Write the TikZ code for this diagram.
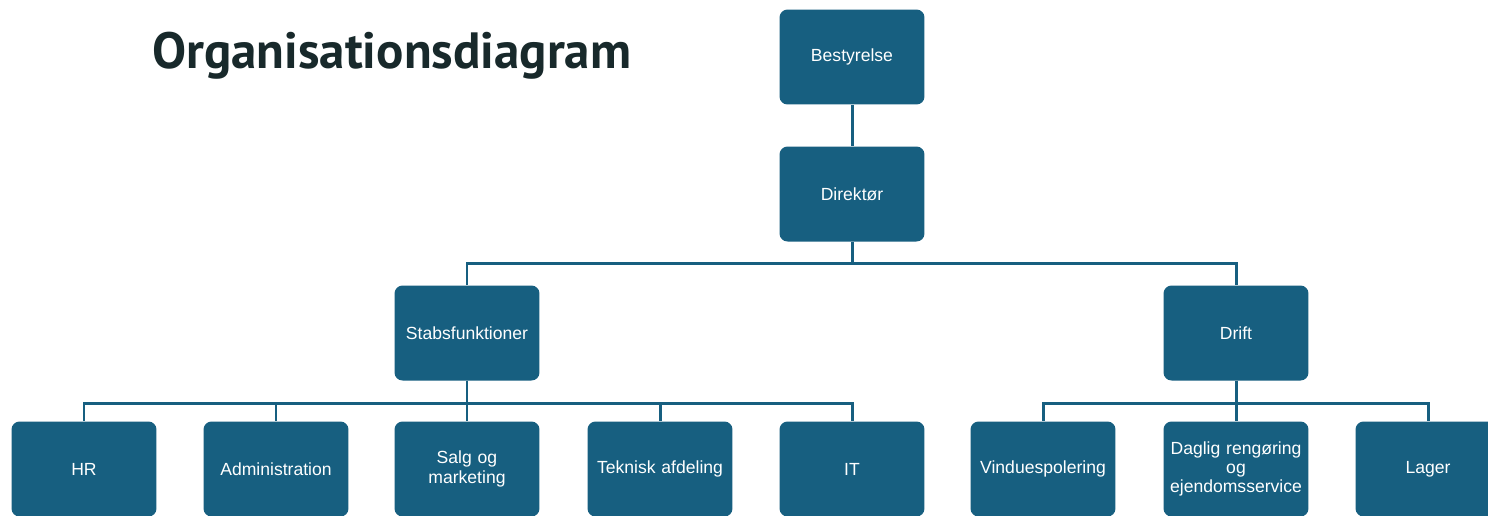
\documentclass[tikz,border=0pt]{standalone}
\usepackage{fontspec}
\setmainfont{Liberation Sans}
\newfontfamily\titlefont{PT Sans}
\usetikzlibrary{calc}
\definecolor{boxblue}{HTML}{175F80}
\definecolor{titledark}{HTML}{18292B}
\tikzset{
  orgbox/.style={draw=none,fill=boxblue,rounded corners=0.16cm,minimum width=2.9cm,
    minimum height=1.9cm,text=white,font=\fontsize{10}{11}\selectfont,align=center,
    text width=2.7cm,inner sep=0pt},
  orgline/.style={draw=boxblue,line width=1.7pt}
}
\begin{document}
\begin{tikzpicture}[x=0.02cm,y=-0.02cm]
\useasboundingbox[fill=white] (0,0) rectangle (1488,515);
    \node[anchor=base west,inner sep=0pt,text=titledark,font=\titlefont\bfseries\fontsize{29}{32}\selectfont] (title) at (152,68) {Organisationsdiagram};
    % top
    \node[orgbox] (best) at (852,57) {Bestyrelse};
    \node[orgbox] (dir) at (852,194) {Direktør};
    \node[orgbox] (stab) at (467,333) {Stabsfunktioner};
    \node[orgbox] (drift) at (1236,333) {Drift};
    % bottom row
    \node[orgbox] (hr) at (84,469) {HR};
    \node[orgbox] (adm) at (276,469) {Administration};
    \node[orgbox] (salg) at (467,469) {Salg og\\marketing};
    \node[orgbox] (tek) at (660,469) {Teknisk afdeling};
    \node[orgbox] (it) at (852,469) {IT};
    \node[orgbox] (vin) at (1043,469) {Vinduespolering};
    \node[orgbox] (dag) at (1236,469) {Daglig rengøring\\og\\ejendomsservice};
    \node[orgbox] (lag) at (1428,469) {Lager};
    % lines
    \draw[orgline] (best.south) -- (dir.north);
    \coordinate (dirbus) at ($(dir.south)+(0,22)$);
    \draw[orgline] (dir.south) -- (dirbus) -| (stab.north);
    \draw[orgline] (dirbus) -| (drift.north);
    \coordinate (stabbus) at ($(stab.south)+(0,23)$);
    \foreach \n in {hr,adm,salg,tek,it}
      \draw[orgline] (stab.south) -- (stabbus) -| (\n.north);
    \coordinate (driftbus) at ($(drift.south)+(0,23)$);
    \foreach \n in {vin,dag,lag}
      \draw[orgline] (drift.south) -- (driftbus) -| (\n.north);
\end{tikzpicture}
\end{document}
